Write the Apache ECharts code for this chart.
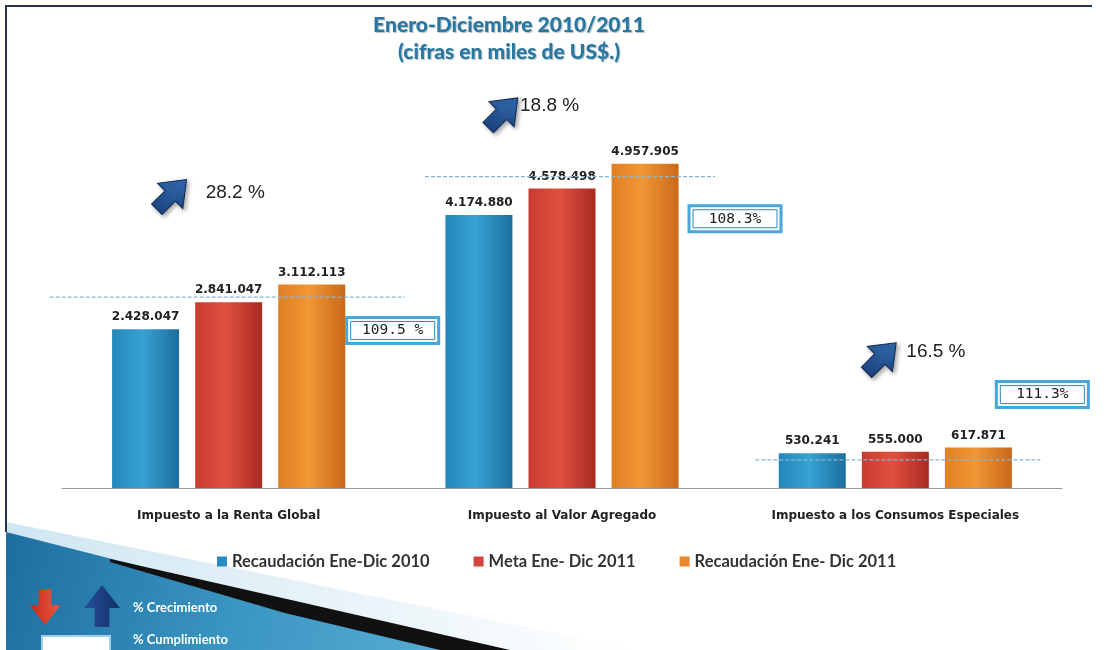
<!DOCTYPE html>
<html>
<head>
<meta charset="utf-8">
<script src="https://cdn.jsdelivr.net/npm/echarts@6/dist/echarts.min.js"></script>
<style>html,body{margin:0;padding:0;background:#fff}#c{width:1107px;height:650px}</style>
</head>
<body>
<div id="c"></div>
<script>
// ---- data ----
var categories = ['Impuesto a la Renta Global', 'Impuesto al Valor Agregado', 'Impuesto a los Consumos Especiales'];
var seriesNames = ['Recaudación Ene-Dic 2010', 'Meta Ene- Dic 2011', 'Recaudación Ene- Dic 2011'];
var rec2010 = [2428047, 4174880, 530241];
var meta2011 = [2841047, 4578498, 555000];
var rec2011 = [3112113, 4957905, 617871];
var growthPct = ['28.2 %', '18.8 %', '16.5 %'];
var complPct = ['109.5 %', '108.3%', '111.3%'];
var dashLevels = [2920000, 4760000, 430000];

// ---- layout (pixel offsets for annotations, relative to category centre / top bar) ----
var arrowOff = [[-57, -90], [-59, -51], [-14, -90]];
var growthTextOff = [[-23, -92], [-42, -58], [11, -96]];
var boxOff = [[164, 46], [173, 55], [147, -53]];
var dashExtent = [[-179, 176], [-137, 153], [-140, 145]];

function fmt(v) { return String(v).replace(/\B(?=(\d{3})+(?!\d))/g, '.'); }
function grad(c1, c2, c3) {
  return new echarts.graphic.LinearGradient(0, 0, 1, 0, [
    {offset: 0, color: c1}, {offset: 0.45, color: c2}, {offset: 1, color: c3}]);
}
var colors = [
  grad('#2386ba', '#37a2d4', '#1b6f9e'),
  grad('#c93a30', '#e1503f', '#a92a22'),
  grad('#df7f22', '#f29735', '#c8691a')
];
var legendColors = ['#2a8cc0', '#d4453a', '#e5872c'];

function upArrowPts(s) {
  return [[-7 * s, 20 * s], [7 * s, 20 * s], [7 * s, 2 * s], [17 * s, 2 * s], [0, -20 * s], [-17 * s, 2 * s], [-7 * s, 2 * s]];
}

var chart = echarts.init(document.getElementById('c'));
var barLabel = {
  show: true, position: 'top', distance: 6,
  fontFamily: 'DejaVu Sans', fontWeight: 'bold', fontSize: 12, color: '#222',
  formatter: function (p) { return fmt(p.value); }
};
var dataSets = [rec2010, meta2011, rec2011];
var series = dataSets.map(function (d, k) {
  return {
    type: 'bar', name: seriesNames[k], data: d, barWidth: 67, barGap: '24%',
    itemStyle: {color: colors[k]}, label: barLabel, z: 3
  };
});
series.push({
  type: 'custom', name: 'annot', silent: true, z: 5,
  data: categories.map(function (c, i) { return [i, dashLevels[i]]; }),
  encode: {x: 0, y: 1},
  renderItem: function (params, api) {
    var i = api.value(0);
    var cx = api.coord([i, 0])[0];
    var yd = api.coord([i, api.value(1)])[1];
    var top = api.coord([i, rec2011[i]])[1];
    var ax = cx + arrowOff[i][0], ay = top + arrowOff[i][1];
    var bx = cx + boxOff[i][0], by = top + boxOff[i][1];
    return {
      type: 'group',
      children: [
        {type: 'line', z2: 1, shape: {x1: cx + dashExtent[i][0], y1: yd, x2: cx + dashExtent[i][1], y2: yd},
          style: {stroke: '#86b6d8', lineWidth: 1.2, lineDash: [4, 2]}},
        {type: 'polygon', x: ax, y: ay, rotation: -Math.PI / 4, z2: 10,
          shape: {points: upArrowPts(1.05)},
          style: {fill: new echarts.graphic.LinearGradient(0, 0, 1, 1, [
            {offset: 0, color: '#3a78c0'}, {offset: 1, color: '#163a72'}]),
            stroke: '#102a55', lineWidth: 1, shadowBlur: 4, shadowColor: 'rgba(0,0,0,0.35)', shadowOffsetX: 2, shadowOffsetY: 2}},
        {type: 'text', x: cx + growthTextOff[i][0], y: top + growthTextOff[i][1], z2: 10,
          style: {text: growthPct[i], fontFamily: 'Liberation Sans', fontSize: 19, fill: '#222',
            verticalAlign: 'middle', align: 'left'}},
        {type: 'rect', z2: 10, shape: {x: bx - 46, y: by - 13, width: 92, height: 26},
          style: {fill: '#fff', stroke: '#45a8d8', lineWidth: 3}},
        {type: 'rect', z2: 11, shape: {x: bx - 42, y: by - 9, width: 84, height: 18},
          style: {fill: 'none', stroke: '#2f86b8', lineWidth: 1}},
        {type: 'text', x: bx, y: by, z2: 12,
          style: {text: complPct[i], fontFamily: 'DejaVu Sans Mono', fontSize: 14.5, fill: '#222',
            align: 'center', verticalAlign: 'middle'}}
      ]
    };
  }
});

var option = {
  backgroundColor: '#ffffff',
  animation: false,
  title: {
    text: 'Enero-Diciembre 2010/2011\n(cifras en miles de US$.)',
    left: 504, textAlign: 'center', top: 7,
    textStyle: {fontFamily: 'Lato', fontWeight: 900, fontSize: 21, lineHeight: 27, color: '#2a779f',
      textShadowColor: 'rgba(0,40,80,0.3)', textShadowBlur: 1, textShadowOffsetX: 1, textShadowOffsetY: 1}
  },
  legend: {
    data: seriesNames.map(function (n, k) { return {name: n, itemStyle: {color: legendColors[k]}}; }),
    top: 548, left: 212, itemWidth: 10, itemHeight: 10, itemGap: 44, icon: 'rect',
    textStyle: {fontFamily: 'Lato', fontWeight: 'bold', fontSize: 16.5, color: '#333'}
  },
  grid: {left: 62, right: 45, top: 161, bottom: 162},
  xAxis: {
    type: 'category', data: categories,
    axisLine: {lineStyle: {color: '#9a9a9a', width: 1}},
    axisTick: {show: false},
    axisLabel: {margin: 22, fontFamily: 'DejaVu Sans', fontWeight: 'bold', fontSize: 12, color: '#222'}
  },
  yAxis: {type: 'value', min: 0, max: 5000000, show: false, splitLine: {show: false}},
  series: series,
  graphic: [
    {type: 'polygon', z: -10, shape: {points: [[6, 522], [640, 650], [6, 650]]},
      style: {fill: new echarts.graphic.LinearGradient(0, 0, 1, 0, [
        {offset: 0, color: '#cfe6f2'}, {offset: 1, color: '#ffffff'}])}},
    {type: 'polygon', z: -9, shape: {points: [[6, 532], [120, 561], [300, 606], [470, 650], [6, 650]]},
      style: {fill: new echarts.graphic.LinearGradient(0, 0, 1, 1, [
        {offset: 0, color: '#1d6e9e'}, {offset: 0.5, color: '#3a95c2'}, {offset: 1, color: '#5aafd4'}])}},
    {type: 'polygon', z: -8, shape: {points: [[110, 559], [300, 602], [510, 650], [440, 650], [285, 613], [110, 562]]},
      style: {fill: '#111'}},
    {type: 'line', z: 20, shape: {x1: 6, y1: 6, x2: 1092, y2: 6}, style: {stroke: '#22344f', lineWidth: 2}},
    {type: 'line', z: 20, shape: {x1: 6, y1: 5, x2: 6, y2: 532}, style: {stroke: '#22344f', lineWidth: 2}},
    {type: 'polygon', z: 20, x: 45, y: 607, shape: {points: upArrowPts(0.9)}, rotation: Math.PI,
      style: {fill: new echarts.graphic.LinearGradient(0, 0, 1, 0, [
        {offset: 0, color: '#f0583a'}, {offset: 1, color: '#c22a1e'}])}},
    {type: 'polygon', z: 20, x: 102, y: 606, shape: {points: upArrowPts(1.05)},
      style: {fill: new echarts.graphic.LinearGradient(0, 0, 1, 0, [
        {offset: 0, color: '#25509a'}, {offset: 1, color: '#132f66'}])}},
    {type: 'text', z: 20, x: 133, y: 608, style: {text: '% Crecimiento', fontFamily: 'Lato', fontWeight: 'bold',
      fontSize: 13, fill: '#ffffff', verticalAlign: 'middle'}},
    {type: 'rect', z: 20, shape: {x: 42, y: 636, width: 68, height: 20},
      style: {fill: '#ffffff', stroke: '#9fd0ea', lineWidth: 2}},
    {type: 'text', z: 20, x: 133, y: 640, style: {text: '% Cumplimiento', fontFamily: 'Lato', fontWeight: 'bold',
      fontSize: 13, fill: '#ffffff', verticalAlign: 'middle'}}
  ]
};
chart.setOption(option);
</script>
</body>
</html>
